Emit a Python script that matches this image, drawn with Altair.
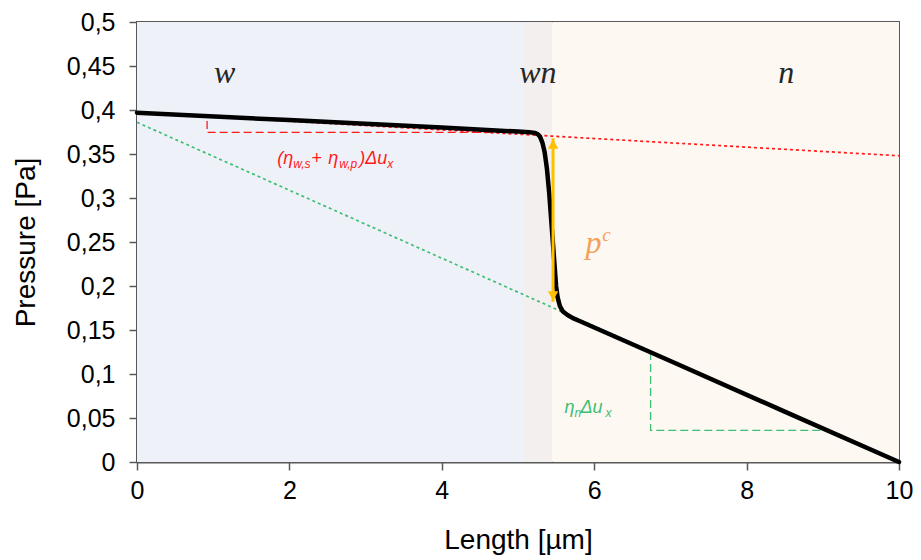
import altair as alt
import pandas as pd

# ---- data ----
length_main = [0.0, 2.0, 4.0, 5.0, 5.15, 5.22, 5.26, 5.29, 5.32, 5.35, 5.38, 5.41, 5.44, 5.47, 5.50, 5.52,
               5.55, 5.59, 5.65, 5.72, 5.80, 7.0, 8.5, 10.0]
pressure_main = [0.397, 0.3885, 0.380, 0.3755, 0.3748, 0.3740, 0.3725, 0.3695, 0.363, 0.352, 0.333, 0.305,
                 0.270, 0.235, 0.200, 0.187, 0.177, 0.171, 0.167, 0.1635, 0.1605, 0.1147, 0.0573, 0.0]

red_ref_x = [0.0, 10.0]
red_ref_y = [0.397, 0.348]
green_ref_x = [0.0, 10.0]
green_ref_y = [0.386, 0.0]

red_step_x = [0.92, 0.92, 5.15]
red_step_y = [0.3875, 0.3745, 0.3745]
green_step_x = [6.74, 6.74, 9.0]
green_step_y = [0.125, 0.036, 0.036]

region_names = ["w", "wn", "n"]
region_start = [0.0, 5.08, 5.45]
region_end = [5.08, 5.45, 10.0]
region_label_x = [1.15, 5.26, 8.52]
region_colors = ["#EEF2F8", "#F3EFEE", "#FDF8F2"]

arrow_x = 5.46
arrow_top = 0.368
arrow_bottom = 0.182

y_ticks = [0, 0.05, 0.1, 0.15, 0.2, 0.25, 0.3, 0.35, 0.4, 0.45, 0.5]
x_ticks = [0, 2, 4, 6, 8, 10]

RED = "#FF1A1A"
GREEN = "#3DBE74"
ORANGE = "#FFC000"
PC = "#F5A15A"
FONT = "Liberation Sans"
SERIF = "Liberation Serif"

xs = alt.Scale(domain=[0, 10], nice=False)
ys = alt.Scale(domain=[0, 0.5], nice=False)

X = alt.X("x:Q", scale=xs,
          axis=alt.Axis(values=x_ticks, title="Length [µm]", grid=False, format="d", labelFlush=False,
                        labelPadding=8, titlePadding=23))
Y = alt.Y("y:Q", scale=ys,
          axis=alt.Axis(values=y_ticks, title="Pressure [Pa]", grid=False, labelPadding=14, titlePadding=26,
                        labelFlush=False,
                        labelExpr="replace(format(datum.value, '.2~f'), '.', ',')"))

bg_df = pd.DataFrame({"region": region_names, "x": region_start, "x2": region_end,
                      "lx": region_label_x})
bg = alt.Chart(bg_df).mark_rect().encode(
    x=X, x2="x2:Q",
    y=alt.Y("y0:Q", scale=ys), y2="y1:Q",
    color=alt.Color("region:N", scale=alt.Scale(domain=region_names, range=region_colors), legend=None),
).transform_calculate(y0="0", y1="0.5")

region_text = alt.Chart(bg_df).mark_text(font=SERIF, fontStyle="italic", fontSize=32,
                                         color="#262626", baseline="middle").encode(
    x=alt.X("lx:Q", scale=xs), y=alt.Y("ly:Q", scale=ys), text="region:N"
).transform_calculate(ly="0.442")

def line_layer(xv, yv, color, width, dash):
    df = pd.DataFrame({"x": xv, "y": yv, "o": list(range(len(xv)))})
    kw = dict(color=color, strokeWidth=width)
    if dash:
        kw["strokeDash"] = dash
    return alt.Chart(df).mark_line(**kw).encode(x=X, y=Y, order="o:Q")

red_ref = line_layer(red_ref_x, red_ref_y, RED, 1.7, [3, 3])
green_ref = line_layer(green_ref_x, green_ref_y, GREEN, 1.7, [3, 3])
red_step = line_layer(red_step_x, red_step_y, RED, 1.3, [8, 4])
green_step = line_layer(green_step_x, green_step_y, GREEN, 1.3, [8, 4])
main = alt.Chart(pd.DataFrame({"x": length_main, "y": pressure_main, "o": list(range(len(length_main)))})).mark_line(
    color="black", strokeWidth=4.5, strokeJoin="round", strokeCap="round").encode(x=X, y=Y, order="o:Q")

arrow_df = pd.DataFrame({"x": [arrow_x], "y": [arrow_top], "y2": [arrow_bottom]})
arrow = alt.Chart(arrow_df).mark_rule(color=ORANGE, strokeWidth=3).encode(
    x=alt.X("x:Q", scale=xs), y=alt.Y("y:Q", scale=ys), y2="y2:Q")
head_top = alt.Chart(arrow_df).mark_point(shape="triangle-up", filled=True, color=ORANGE, size=110, opacity=1,
                                          yOffset=6).encode(x=alt.X("x:Q", scale=xs), y=alt.Y("y:Q", scale=ys))
head_bot = alt.Chart(arrow_df).mark_point(shape="triangle-down", filled=True, color=ORANGE, size=110, opacity=1,
                                          yOffset=-6).encode(x=alt.X("x:Q", scale=xs), y=alt.Y("y2:Q", scale=ys))

# p^c label
pc_df = pd.DataFrame({"x": [5.99], "y": [0.249]})
p_txt = alt.Chart(pc_df).mark_text(text="p", font=SERIF, fontStyle="italic", fontSize=32, color=PC,
                                   baseline="middle").encode(x=alt.X("x:Q", scale=xs), y=alt.Y("y:Q", scale=ys))
c_txt = alt.Chart(pc_df).mark_text(text="c", font=SERIF, fontStyle="italic", fontSize=19, color=PC,
                                   baseline="middle", dx=13, dy=-8).encode(x=alt.X("x:Q", scale=xs), y=alt.Y("y:Q", scale=ys))

def composite(anchor_x, anchor_y, segments, color):
    df = pd.DataFrame({"x": [anchor_x], "y": [anchor_y]})
    layers = []
    for txt, dx, dy, size in segments:
        layers.append(alt.Chart(df).mark_text(text=txt, font=FONT, fontStyle="italic", fontSize=size, color=color,
                                              align="left", baseline="alphabetic", dx=dx, dy=dy)
                      .encode(x=alt.X("x:Q", scale=xs), y=alt.Y("y:Q", scale=ys)))
    return layers

red_label = composite(1.84, 0.339, [("(η", 0, 0, 18), ("w,s", 16, 4, 12), ("+", 34, 0, 18),
                                     ("η", 51, 0, 18), ("w,p", 62, 4, 12), (")Δu", 82, 0, 18),
                                     ("x", 110, 4, 12)], RED)
green_label = composite(5.61, 0.0557, [("η", 0, 0, 18), ("n", 10, 4, 12), ("Δu", 16, 0, 18),
                                        ("x", 41, 4, 12)], GREEN)

chart = alt.layer(bg, region_text, red_ref, green_ref, red_step, green_step, main, arrow, head_top, head_bot,
                  p_txt, c_txt, *red_label, *green_label).properties(
    width=762, height=440,
    autosize=alt.AutoSizeParams(type="none"),
    padding={"left": 129, "top": 14, "right": 14, "bottom": 98},
).configure_view(stroke="#595959", strokeWidth=2).configure_axis(
    labelFont=FONT, titleFont=FONT, labelFontSize=25, titleFontSize=28, labelColor="#000000",
    titleColor="#000000", titleFontWeight="normal", domainColor="#595959", domainWidth=2,
    tickColor="#595959", tickSize=8, tickWidth=1.5
)

chart.save("out.html", embed_options={"renderer": "svg", "actions": False})
